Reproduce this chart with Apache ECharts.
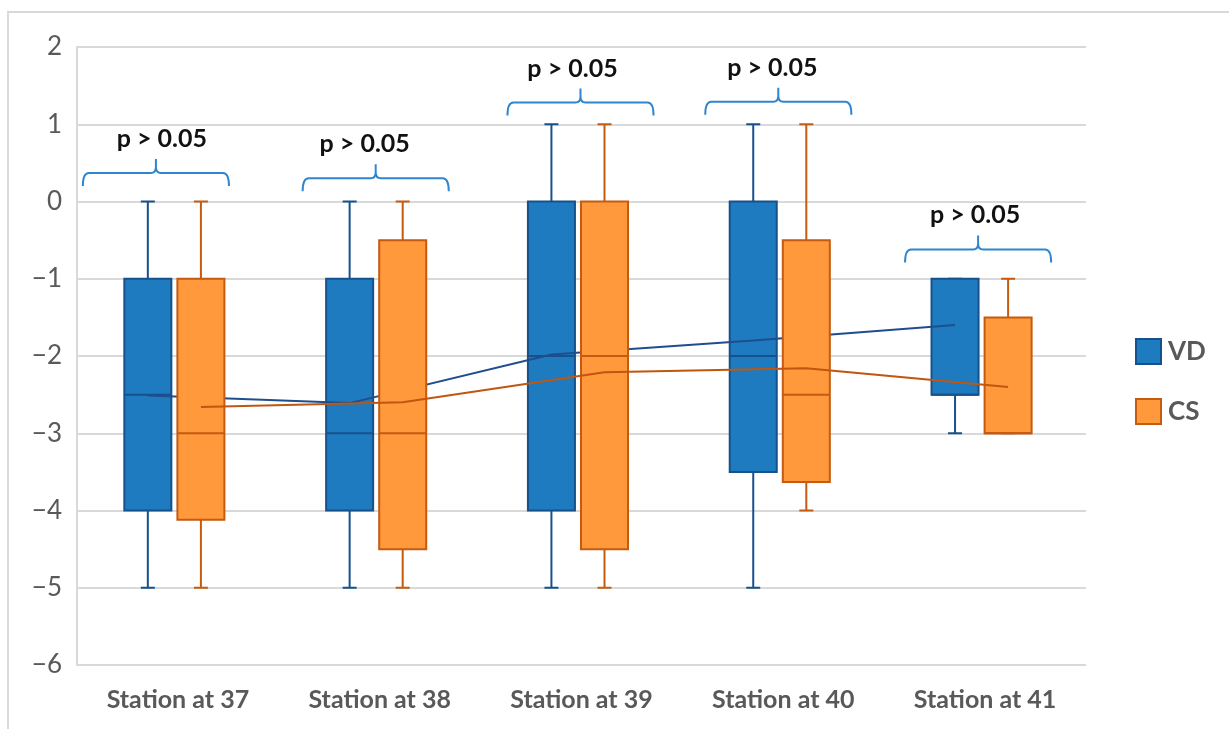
<!DOCTYPE html>
<html>
<head>
<meta charset="utf-8">
<script src="https://cdn.jsdelivr.net/npm/echarts@6/dist/echarts.min.js"></script>
<style>
html, body { margin: 0; padding: 0; background: #fff; }
#main { width: 1229px; height: 729px; }
</style>
</head>
<body>
<div id="main"></div>
<script>
// data
var stations = ['Station at 37', 'Station at 38', 'Station at 39', 'Station at 40', 'Station at 41'];
// [min, Q1, median, Q3, max]
var vdBoxes = [
	[-5, -4, -2.5, -1, 0],
	[-5, -4, -3, -1, 0],
	[-5, -4, -2, 0, 1],
	[-5, -3.5, -2, 0, 1],
	[-3, -2.5, -2.5, -1, -1]
];
var csBoxes = [
	[-5, -4.12, -3, -1, 0],
	[-5, -4.5, -3, -0.5, 0],
	[-5, -4.5, -2, 0, 1],
	[-4, -3.63, -2.5, -0.5, 1],
	[-3, -3, -3, -1.5, -1]
];
var vdMeans = [-2.51, -2.61, -1.98, -1.80, -1.60];
var csMeans = [-2.66, -2.60, -2.21, -2.16, -2.40];
var pLabels = ['p > 0.05', 'p > 0.05', 'p > 0.05', 'p > 0.05', 'p > 0.05'];
var braceLevels = [0.37, 0.30, 1.28, 1.29, -0.62];

// layout (in band fractions / px)
var VD_OFF = -0.149, CS_OFF = 0.114, BOX_W = 0.233, CAP = 14;
var braceShift = [-22, -4, -1, -5, -7];
var textShift = [6, -11, -8, -6, -3];

var VD_FILL = '#1f7bbf', VD_LINE = '#17518c';
var CS_FILL = '#ff993b', CS_LINE = '#c55a11';
var FONT = 'Lato';

function boxItem(off, fill, stroke) {
	return function (params, api) {
		var i = api.value(0);
		var band = api.size([1, 0])[0];
		var x = api.coord([i, 0])[0] + off * band;
		var hw = BOX_W * band / 2;
		var y = function (k) { return api.coord([i, api.value(k)])[1]; };
		var yMin = y(1), yQ1 = y(2), yMed = y(3), yQ3 = y(4), yMax = y(5);
		var ls = { stroke: stroke, lineWidth: 2 };
		return {
			type: 'group',
			children: [
				{ type: 'line', shape: { x1: x, y1: yMax, x2: x, y2: yQ3 }, style: ls },
				{ type: 'line', shape: { x1: x, y1: yQ1, x2: x, y2: yMin }, style: ls },
				{ type: 'line', shape: { x1: x - CAP / 2, y1: yMax, x2: x + CAP / 2, y2: yMax }, style: ls },
				{ type: 'line', shape: { x1: x - CAP / 2, y1: yMin, x2: x + CAP / 2, y2: yMin }, style: ls },
				{ type: 'rect', shape: { x: x - hw, y: yQ3, width: hw * 2, height: yQ1 - yQ3 },
					style: { fill: fill, stroke: stroke, lineWidth: 2 } },
				{ type: 'line', shape: { x1: x - hw, y1: yMed, x2: x + hw, y2: yMed }, style: ls }
			]
		};
	};
}

function braceItem(params, api) {
	var i = api.value(0);
	var band = api.size([1, 0])[0];
	var xc = api.coord([i, 0])[0] + braceShift[i];
	var y = api.coord([i, api.value(1)])[1];
	var hw = 0.362 * band;
	var x0 = xc - hw, x1 = xc + hw;
	var d = 'M' + x0 + ',' + (y + 13) + ' Q' + x0 + ',' + y + ' ' + (x0 + 6) + ',' + y +
		' L' + (xc - 5) + ',' + y + ' Q' + xc + ',' + y + ' ' + xc + ',' + (y - 6) +
		' L' + xc + ',' + (y - 14) +
		' M' + xc + ',' + (y - 6) + ' Q' + xc + ',' + y + ' ' + (xc + 5) + ',' + y +
		' L' + (x1 - 6) + ',' + y + ' Q' + x1 + ',' + y + ' ' + x1 + ',' + (y + 13);
	return {
		type: 'group',
		children: [
			{ type: 'path', shape: { pathData: d }, style: { fill: null, stroke: '#2f86cf', lineWidth: 2 } },
			{ type: 'text', x: xc + textShift[i], y: y - 34,
				style: { text: pLabels[i], fill: '#111', font: 'bold 25px ' + FONT, align: 'center', verticalAlign: 'middle' } }
		]
	};
}

var myChart = echarts.init(document.getElementById('main'));
var option = {
	animation: false,
	backgroundColor: '#fff',
	graphic: [
		{ type: 'polyline', shape: { points: [[8, 729], [8, 12], [1229, 12]] }, style: { fill: null, stroke: '#d9d9d9', lineWidth: 2 } }
	],
	legend: {
		orient: 'vertical',
		left: 1130,
		top: 333,
		itemWidth: 25,
		itemHeight: 25,
		itemGap: 33,
		textStyle: { fontFamily: FONT, fontWeight: 'bold', fontSize: 26, color: '#595959', padding: [0, 0, 0, 2] },
		data: [
			{ name: 'VD', icon: 'rect', itemStyle: { color: VD_FILL, borderColor: VD_LINE, borderWidth: 2 } },
			{ name: 'CS', icon: 'rect', itemStyle: { color: CS_FILL, borderColor: CS_LINE, borderWidth: 2 } }
		]
	},
	grid: { left: 77, right: 143, top: 47, bottom: 64 },
	xAxis: [{
		type: 'category',
		data: stations,
		axisLine: { show: false },
		axisTick: { show: false },
		axisLabel: { fontFamily: FONT, fontWeight: 'bold', fontSize: 25, color: '#595959', margin: 22 }
	}, {
		type: 'value',
		min: -0.5,
		max: 4.5,
		show: false
	}],
	yAxis: {
		type: 'value',
		min: -6,
		max: 2,
		interval: 1,
		axisLine: { show: true, onZero: false, lineStyle: { color: '#d9d9d9', width: 2 } },
		axisTick: { show: false },
		splitLine: { lineStyle: { color: '#d9d9d9', width: 2 } },
		axisLabel: {
			fontFamily: FONT, fontSize: 26, color: '#595959', margin: 15,
			formatter: function (v) { return String(v).replace('-', '\u2212'); }
		}
	},
	series: [{
		name: 'VD',
		type: 'custom',
		z: 2,
		renderItem: boxItem(VD_OFF, VD_FILL, VD_LINE),
		encode: { x: 0, y: [1, 2, 3, 4, 5] },
		itemStyle: { color: VD_FILL },
		data: vdBoxes.map(function (b, i) { return [i].concat(b); })
	}, {
		name: 'VD mean',
		type: 'line',
		xAxisIndex: 1,
		z: 3,
		symbol: 'none',
		lineStyle: { color: '#1f4e8c', width: 2 },
		data: vdMeans.map(function (m, i) { return [i + VD_OFF, m]; })
	}, {
		name: 'CS',
		type: 'custom',
		z: 4,
		renderItem: boxItem(CS_OFF, CS_FILL, CS_LINE),
		encode: { x: 0, y: [1, 2, 3, 4, 5] },
		itemStyle: { color: CS_FILL },
		data: csBoxes.map(function (b, i) { return [i].concat(b); })
	}, {
		name: 'CS mean',
		type: 'line',
		xAxisIndex: 1,
		z: 5,
		symbol: 'none',
		lineStyle: { color: '#c0560f', width: 2 },
		data: csMeans.map(function (m, i) { return [i + CS_OFF, m]; })
	}, {
		name: 'brace',
		type: 'custom',
		z: 6,
		renderItem: braceItem,
		encode: { x: 0, y: 1 },
		data: braceLevels.map(function (l, i) { return [i, l]; })
	}]
};
myChart.setOption(option);
</script>
</body>
</html>
